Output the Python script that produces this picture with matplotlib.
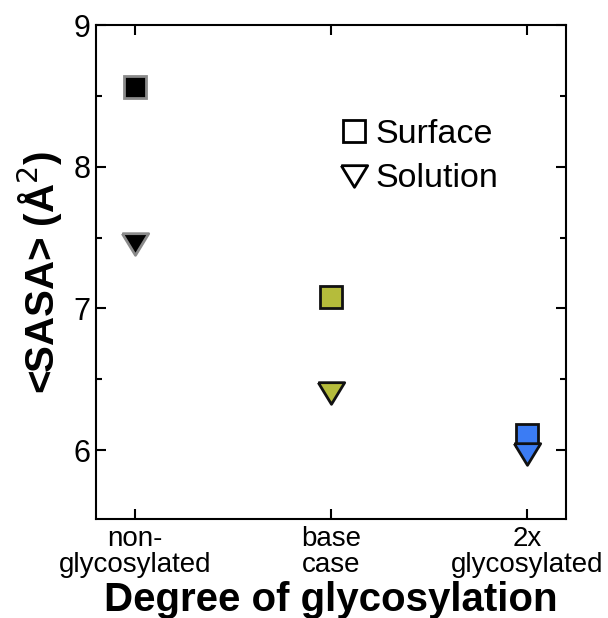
import matplotlib.pyplot as plt
from matplotlib.lines import Line2D
from matplotlib.ticker import MultipleLocator

categories = ['non-\nglycosylated', 'base\ncase', '2x\nglycosylated']
surface = [8.56, 7.08, 6.11]
solution = [7.455, 6.40, 5.97]
fills = ['#000000', '#b5bc3b', '#3b7cf4']
edges = ['#8a8a8a', '#111111', '#111111']

# slightly flattened down-triangle, like the original marker
tri = [(-1, 0.82), (1, 0.82), (0, -0.82), (-1, 0.82)]

plt.rcParams['font.family'] = ['Liberation Sans', 'DejaVu Sans']

fig = plt.figure(figsize=(6.08, 6.18), dpi=100)
ax = fig.add_axes([96 / 608, 1 - 519 / 618, 470 / 608, 494 / 618])

for i in range(len(categories)):
    ax.plot(i, surface[i], marker='s', ms=16, mfc=fills[i], mec=edges[i], mew=2, ls='none')
    ax.plot(i, solution[i], marker=tri, ms=19, mfc=fills[i], mec=edges[i], mew=2, ls='none')

ax.set_xlim(-0.2, 2.2)
ax.set_ylim(5.514, 9)
ax.set_xticks(range(len(categories)))
ax.set_xticklabels(categories, fontsize=20, linespacing=1.0)
ax.yaxis.set_major_locator(MultipleLocator(1))
ax.yaxis.set_minor_locator(MultipleLocator(0.5))
ax.tick_params(axis='y', labelsize=22, pad=4)
ax.tick_params(which='both', direction='in', top=True, right=True, width=1.5)
ax.tick_params(which='major', length=7.2)
ax.tick_params(which='minor', length=4.3)
ax.tick_params(axis='x', pad=5)
for s in ax.spines.values():
    s.set_linewidth(1.5)

ax.set_xlabel('Degree of glycosylation', fontsize=29, fontweight='bold', labelpad=2)
ax.set_ylabel('<SASA> (Å$^2$)', fontsize=29, fontweight='bold', labelpad=6)

handles = [
    Line2D([], [], marker='s', ms=16, mfc='none', mec='black', mew=2, ls='none'),
    Line2D([], [], marker=tri, ms=19, mfc='none', mec='black', mew=2, ls='none'),
]
ax.legend(handles, ['Surface', 'Solution'], loc='upper left', bbox_to_anchor=(0.505, 0.81),
          frameon=False, fontsize=24.5, handletextpad=0.05, labelspacing=0.4,
          borderpad=0, borderaxespad=0, handlelength=1.2)

fig.savefig('out.png', dpi=100)
